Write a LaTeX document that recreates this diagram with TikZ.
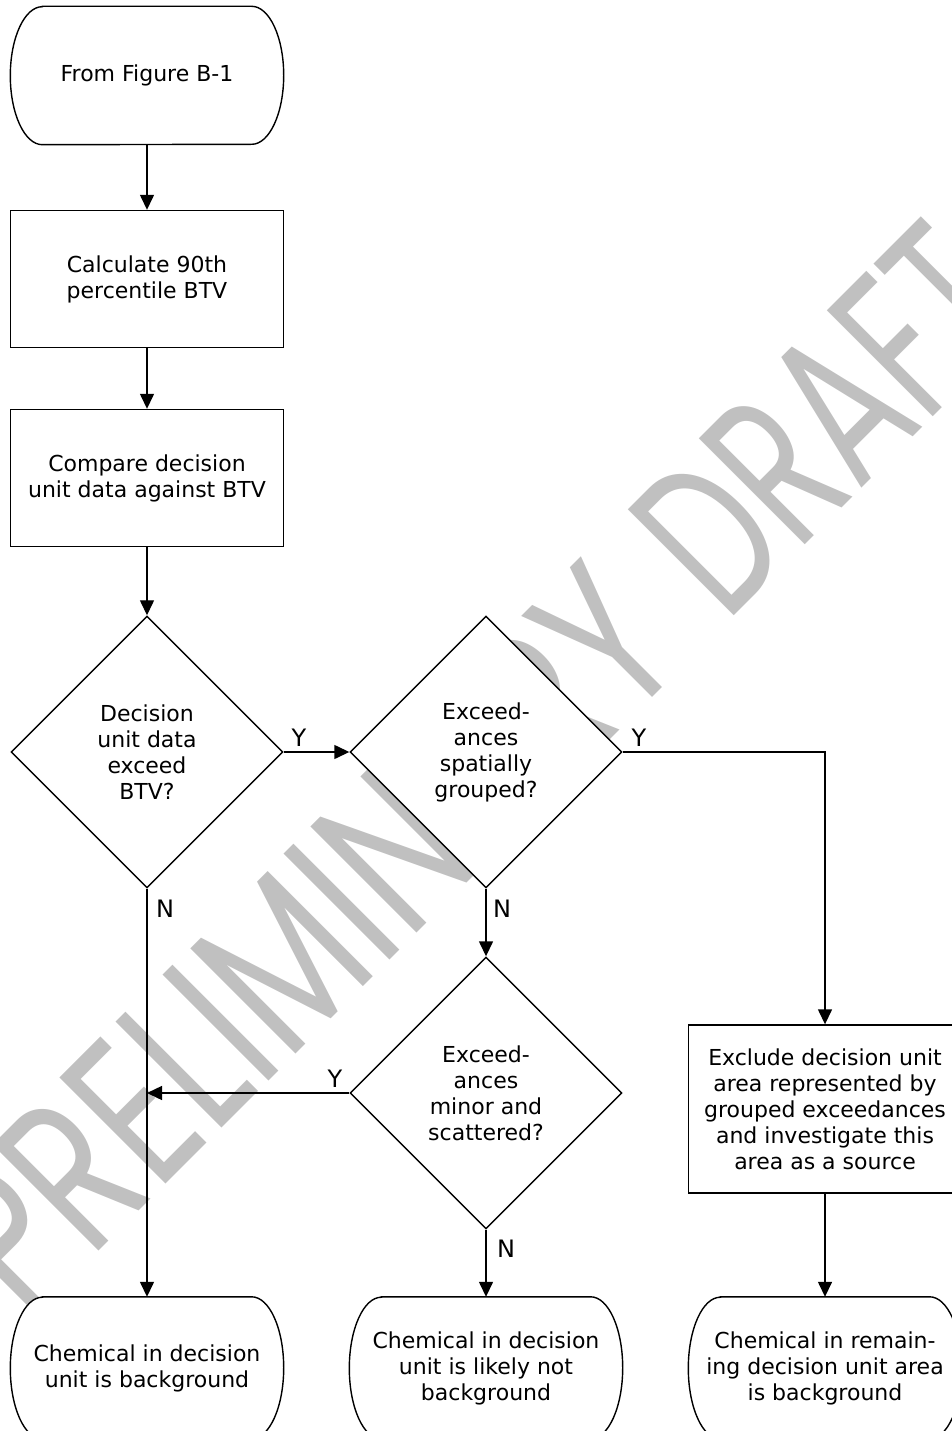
\documentclass[tikz,border=0pt]{standalone}
\usepackage{graphicx}
\usepackage{fontspec}
\setmainfont{DejaVu Sans}
\newfontfamily\wmfont{Poppins}
\usetikzlibrary{shapes.geometric,arrows.meta,calc}
\pgfdeclarelayer{watermark}
\pgfdeclarelayer{outline}
\pgfsetlayers{watermark,outline,main}
\definecolor{wmgray}{RGB}{192,192,192}

\tikzset{
  flow/.style={line width=1.4pt},
  arr/.style={flow,-{Triangle[length=15pt,width=14pt]}},
  txt/.style={font=\fontsize{22}{26}\selectfont, align=center, inner sep=0pt},
  proc/.style={txt, draw, line width=1.4pt, fill=white, minimum width=273pt, minimum height=137pt},
  dec/.style={txt, diamond, draw, line width=1.4pt, fill=white, minimum width=272pt, minimum height=272pt},
  term/.style={txt, minimum width=273pt, minimum height=142pt},
  lbl/.style={font=\fontsize{24}{24}\selectfont, inner sep=0pt},
  wmtext/.style={font=\wmfont\fontsize{215}{215}\selectfont, text=wmgray, inner sep=0pt, rotate=45},
}

% terminal outline: straight top and bottom, half-elliptical ends
% #1 = node name, #2 = half of the node height
\newcommand\termshape[2]{%
  \filldraw[flow, fill=white]
    ([xshift=32pt]#1.north west) -- ([xshift=-32pt]#1.north east)
    arc[start angle=90, end angle=-90, x radius=32pt, y radius=#2]
    -- ([xshift=32pt]#1.south west)
    arc[start angle=270, end angle=90, x radius=32pt, y radius=#2] -- cycle;}

\begin{document}
\begin{tikzpicture}[x=1pt,y=-1pt]
\useasboundingbox (0,0) rectangle (952,1431);

% watermark along the diagonal
\begin{pgfonlayer}{watermark}
  \clip (0,0) rectangle (952,1431);
  \node[wmtext, anchor=base east] (wm1) at (690,660) {\scalebox{0.72}[1]{PRELIMINARY}};
  \node[wmtext, anchor=base west] (wm2) at (726,624) {\scalebox{0.66}[1]{DRAFT}};
\end{pgfonlayer}

\begin{scope}
\clip (0,0) rectangle (952,1431);

% steps
\node[term, minimum height=138pt] (start) at (147,75.5) {From Figure B-1};
\node[proc] (calc) at (147,279) {Calculate 90th\\percentile BTV};
\node[proc] (cmp) at (147,478) {Compare decision\\unit data against BTV};
\node[dec] (d1) at (147,752) {Decision\\unit data\\exceed\\BTV?};
\node[dec] (d2) at (486,752) {Exceed-\\ances\\spatially\\grouped?};
\node[dec] (d3) at (486,1093) {Exceed-\\ances\\minor and\\scattered?};
\node[proc, minimum height=168pt] (excl) at (825,1109)
  {Exclude decision unit\\area represented by\\grouped exceedances\\and investigate this\\area as a source};
\node[term] (t1) at (147,1368) {Chemical in decision\\unit is background};
\node[term] (t2) at (486,1368) {Chemical in decision\\unit is likely not\\background};
\node[term] (t3) at (825,1368) {Chemical in remain-\\ing decision unit area\\is background};

\begin{pgfonlayer}{outline}
  \clip (0,0) rectangle (952,1431);
  \termshape{start}{69pt}
  \termshape{t1}{71pt}
  \termshape{t2}{71pt}
  \termshape{t3}{71pt}
\end{pgfonlayer}

% connectors
\draw[arr] (start) -- (calc);
\draw[arr] (calc) -- (cmp);
\draw[arr] (cmp) -- (d1);
\draw[arr] (d1.east) -- (d2.west);
\draw[arr] (d2.east) -| (excl.north);
\draw[arr] (d2.south) -- (d3.north);
\draw[arr] (d1.south) -- (t1.north);
\coordinate (join) at (d1.south |- d3.west);
\draw[arr] (d3.west) -- (join);
\draw[arr] (d3.south) -- (t2.north);
\draw[arr] (excl.south) -- (t3.north);

% branch labels
\node[lbl] (y1) at (299,738) {Y};
\node[lbl] (y2) at (639,738) {Y};
\node[lbl] (n1) at (165,909) {N};
\node[lbl] (n2) at (502,909) {N};
\node[lbl] (y3) at (335,1079) {Y};
\node[lbl] (n3) at (506,1249) {N};
\end{scope}
\end{tikzpicture}
\end{document}
